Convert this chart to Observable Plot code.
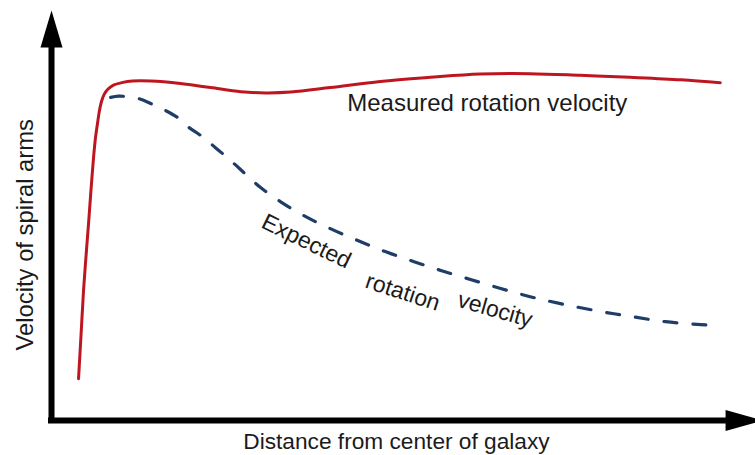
<!DOCTYPE html>
<html><head><meta charset="utf-8">
<script src="https://cdn.jsdelivr.net/npm/d3@7"></script>
<script src="https://cdn.jsdelivr.net/npm/@observablehq/plot@0.6"></script>
<style>body{margin:0;background:#fff}</style>
</head><body><div id="chart"></div>
<script>
// Measured rotation curve (distance, velocity) in arbitrary units
const measuredDist = [0.384,0.42,0.455,0.49,0.526,0.56,0.597,0.625,0.653,0.68,0.71,0.75,0.80,0.88,1.00,1.15,1.41,1.83,2.26,2.69,3.04,3.40,3.96,4.67,5.38,6.09,6.80,7.51,8.22,8.94,9.50];
const measuredVel  = [1.02,2.10,3.17,4.00,4.80,5.60,6.41,6.90,7.24,7.55,7.78,7.96,8.08,8.18,8.24,8.28,8.28,8.22,8.12,8.02,7.99,8.01,8.12,8.27,8.37,8.45,8.46,8.42,8.37,8.31,8.24];
// Expected (Keplerian) rotation curve
const expectedDist = [0.84,0.95,1.07,1.24,1.41,1.62,1.79,1.95,2.12,2.29,2.43,2.59,2.73,2.97,3.25,3.58,3.96,4.35,4.74,5.14,5.53,5.95,6.38,6.80,7.23,7.73,8.22,8.72,9.22,9.47];
const expectedVel  = [7.88,7.91,7.90,7.85,7.73,7.56,7.39,7.15,6.95,6.71,6.51,6.27,6.05,5.68,5.34,5.00,4.68,4.39,4.12,3.88,3.66,3.44,3.22,3.02,2.85,2.68,2.54,2.41,2.34,2.32];

const xLabel = "Distance from center of galaxy";
const yLabel = "Velocity of spiral arms";
const measuredLabel = "Measured rotation velocity";
const expectedWords = ["Expected", "rotation", "velocity"];

const measured = measuredDist.map((d, i) => ({d, v: measuredVel[i]}));
const expected = expectedDist.map((d, i) => ({d, v: expectedVel[i]}));

// annotation placement (not data)
const expectedWordPos = [
  {x: 3.62, y: 4.37, r: 26},
  {x: 4.99, y: 3.13, r: 18},
  {x: 6.30, y: 2.70, r: 16}
].map((p, i) => ({...p, t: expectedWords[i]}));

const xArrowTip = 10.1, xArrowBase = 9.62;
const yArrowTip = 10, yArrowBase = 9.1;

const upArrow = {draw(ctx){ ctx.moveTo(0,0); ctx.lineTo(11,37); ctx.lineTo(-11,37); ctx.closePath(); }};
const rightArrow = {draw(ctx){ ctx.moveTo(0,0); ctx.lineTo(-37,-10.5); ctx.lineTo(-37,10.5); ctx.closePath(); }};

const font = "Liberation Sans, Arial, Helvetica, sans-serif";
const textColor = "#1b1b1b";

const chart = Plot.plot({
  width: 755,
  height: 455,
  marginLeft: 51,
  marginRight: 0,
  marginTop: 10,
  marginBottom: 35,
  x: {domain: [0, 10], axis: null},
  y: {domain: [0, 10], axis: null},
  style: {fontFamily: font, background: "#fff"},
  marks: [
    Plot.line(measured, {x: "d", y: "v", curve: "catmull-rom", stroke: "#be1620", strokeWidth: 3}),
    Plot.line(expected, {x: "d", y: "v", curve: "catmull-rom", stroke: "#1f3d66", strokeWidth: 3.2, strokeDasharray: "13,16"}),
    Plot.ruleY([0], {x1: 0, x2: xArrowBase, stroke: "black", strokeWidth: 6, strokeLinecap: "square"}),
    Plot.ruleX([0], {y1: 0, y2: yArrowBase, stroke: "black", strokeWidth: 6, strokeLinecap: "square"}),
    Plot.dot([{x: 0, y: yArrowTip}], {x: "x", y: "y", symbol: upArrow, fill: "black", stroke: null}),
    Plot.dot([{x: xArrowTip, y: 0}], {x: "x", y: "y", symbol: rightArrow, fill: "black", stroke: null}),
    Plot.text([measuredLabel], {x: 6.19, y: 7.54, text: d => d, fontSize: 24, fill: textColor, lineAnchor: "bottom", textAnchor: "middle"}),
    Plot.text(expectedWordPos, {x: "x", y: "y", text: "t", rotate: "r", fontSize: 23, fill: textColor, lineAnchor: "middle", textAnchor: "middle"}),
    Plot.text([xLabel], {x: 4.90, y: -0.683, text: d => d, fontSize: 22.7, fill: textColor, lineAnchor: "bottom", textAnchor: "middle"}),
    Plot.text([yLabel], {x: -0.256, y: 4.53, text: d => d, rotate: -90, fontSize: 23.8, fill: textColor, lineAnchor: "bottom", textAnchor: "middle"})
  ]
});
document.getElementById("chart").append(chart);
</script>
</body></html>
